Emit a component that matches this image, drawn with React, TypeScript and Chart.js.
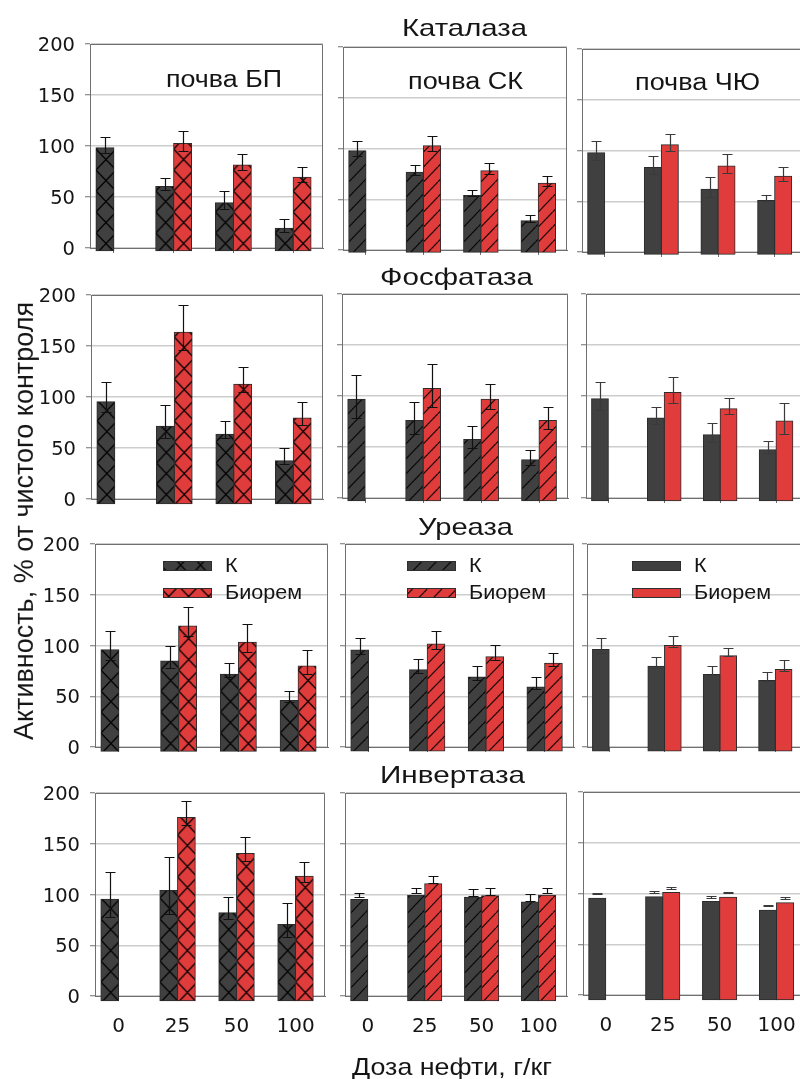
import React, { useEffect, useRef } from 'react';
import { Chart, registerables } from 'chart.js';

Chart.register(...registerables);

// ---------------- data ----------------
const doseLabels = ['0', '25', '50', '100'];
const seriesLabels = ['К', 'Биорем'];
const soilLabels = ['почва БП', 'почва СК', 'почва ЧЮ'];
const enzymeLabels = ['Каталаза', 'Фосфатаза', 'Уреаза', 'Инвертаза'];
const yAxisTitle = 'Активность, % от чистого контроля';
const xAxisTitle = 'Доза нефти, г/кг';
const yMin = 0;
const yMax = 200;
const yStep = 50;

// Каталаза
const catBP_K = [101, 63, 47, 22];
const catBP_KErr = [8, 6, 9, 6];
const catBP_B = [null, 105, 84, 72];
const catBP_BErr = [null, 10, 8, 7];
const catSK_K = [100, 79, 56, 31];
const catSK_KErr = [7, 5, 3, 3.5];
const catSK_B = [null, 105, 80.5, 68];
const catSK_BErr = [null, 7.5, 5.5, 5];
const catCHU_K = [100, 85.5, 64, 53];
const catCHU_KErr = [9.5, 9, 9.5, 3];
const catCHU_B = [null, 108, 87, 77];
const catCHU_BErr = [null, 8, 9.5, 7];

// Фосфатаза
const fosBP_K = [100, 76, 68, 42];
const fosBP_KErr = [15, 16, 8, 8];
const fosBP_B = [null, 168, 117, 84];
const fosBP_BErr = [null, 22, 12, 11.5];
const fosSK_K = [99.5, 78.5, 60, 40];
const fosSK_KErr = [21.5, 16, 11, 7.5];
const fosSK_B = [null, 110, 99.5, 78.5];
const fosSK_BErr = [null, 21, 12, 11];
const fosCHU_K = [100, 81, 64.5, 50];
const fosCHU_KErr = [14, 8.5, 9.5, 6];
const fosCHU_B = [null, 106, 90, 78];
const fosCHU_BErr = [null, 12.5, 8, 15.5];

// Уреаза
const urBP_K = [100, 89, 76, 50];
const urBP_KErr = [14, 11, 7, 5.5];
const urBP_B = [null, 123.5, 107.5, 84];
const urBP_BErr = [null, 14.5, 14, 12];
const urSK_K = [99.5, 80, 73, 63];
const urSK_KErr = [8, 7, 6.5, 5.7];
const urSK_B = [null, 105.5, 93, 86.5];
const urSK_BErr = [null, 8.5, 7.5, 6.3];
const urCHU_K = [100, 83.5, 75.5, 69.5];
const urCHU_KErr = [7, 5.5, 4.5, 4.2];
const urCHU_B = [null, 104, 93.8, 80.3];
const urCHU_BErr = [null, 5, 4.2, 5.3];

// Инвертаза
const invBP_K = [100, 108.5, 86.5, 75];
const invBP_KErr = [22.5, 28, 11, 17];
const invBP_B = [null, 180.5, 145, 122.5];
const invBP_BErr = [null, 12, 12, 10];
const invSK_K = [99.6, 103.9, 102, 97.2];
const invSK_KErr = [1.7, 2.8, 3.3, 3.5];
const invSK_B = [null, 115.1, 103.3, 103.9];
const invSK_BErr = [null, 3.3, 3.3, 2.8];
const invCHU_K = [99.8, 101.4, 96.6, 88];
const invCHU_KErr = [0.7, 0.7, 0.7, 0.7];
const invCHU_B = [null, 105.5, 101, 95.6];
const invCHU_BErr = [null, 0.7, 0.7, 0.7];

const panelData: any[][] = [
  [
    { k: catBP_K, kErr: catBP_KErr, b: catBP_B, bErr: catBP_BErr },
    { k: catSK_K, kErr: catSK_KErr, b: catSK_B, bErr: catSK_BErr },
    { k: catCHU_K, kErr: catCHU_KErr, b: catCHU_B, bErr: catCHU_BErr },
  ],
  [
    { k: fosBP_K, kErr: fosBP_KErr, b: fosBP_B, bErr: fosBP_BErr },
    { k: fosSK_K, kErr: fosSK_KErr, b: fosSK_B, bErr: fosSK_BErr },
    { k: fosCHU_K, kErr: fosCHU_KErr, b: fosCHU_B, bErr: fosCHU_BErr },
  ],
  [
    { k: urBP_K, kErr: urBP_KErr, b: urBP_B, bErr: urBP_BErr },
    { k: urSK_K, kErr: urSK_KErr, b: urSK_B, bErr: urSK_BErr },
    { k: urCHU_K, kErr: urCHU_KErr, b: urCHU_B, bErr: urCHU_BErr },
  ],
  [
    { k: invBP_K, kErr: invBP_KErr, b: invBP_B, bErr: invBP_BErr },
    { k: invSK_K, kErr: invSK_KErr, b: invSK_B, bErr: invSK_BErr },
    { k: invCHU_K, kErr: invCHU_KErr, b: invCHU_B, bErr: invCHU_BErr },
  ],
];

// ---------------- layout / style ----------------
// plot-area boxes [left, right, top, bottom] in page pixels
const BOX = [
  [[90, 323, 44, 248], [343, 567, 47, 250], [582, 803, 49, 252]],
  [[91, 323, 295, 499], [342, 568, 294, 498], [586, 804, 294, 498]],
  [[95, 328, 544, 747], [345, 574, 544, 747], [587, 803, 544, 747]],
  [[95, 325, 793, 996], [345, 567, 793, 996], [583, 805, 792, 995]],
];
// visual drop of the bars below the axis (value units)
const DROP = [
  [2.6, 2.3, 2.3],
  [4.6, 2.6, 2.6],
  [4.3, 4, 4],
  [4.6, 4.6, 4.6],
];
const X_MIN = -0.4;
const X_MAX = 3.5;
const CAT_PCT = 0.6;
const PATTERN_KIND = ['cross', 'diag', 'solid'];
const LEGEND_DX = [68, 62, 45];
const GRAY = '#404040';
const RED = '#e03c3c';
const AXIS_COLOR = '#707070';
const TEXT_COLOR = '#151515';

// pattern whose tiles repeat an integer number of times per category step,
// shifted so the tile starts at the bar's left edge
function makeFill(kind: string, color: string, step: number, phaseX: number, phaseY: number): any {
  if (kind === 'solid') return color;
  const tile = document.createElement('canvas');
  const w = 20;
  const h = kind === 'cross' ? 21 : 15;
  tile.width = w;
  tile.height = h;
  const g = tile.getContext('2d')!;
  g.fillStyle = color;
  g.fillRect(0, 0, w, h);
  g.strokeStyle = 'rgba(0,0,0,0.95)';
  g.lineWidth = 1.35;
  g.beginPath();
  for (const dx of [-w, 0, w]) {
    g.moveTo(dx, h);
    g.lineTo(dx + w, 0);
    if (kind === 'cross') {
      g.moveTo(dx, 0);
      g.lineTo(dx + w, h);
    }
  }
  g.stroke();
  const pat = g.createPattern(tile, 'repeat')!;
  const tileW = kind === 'cross' ? step / 3 : step / 4;
  const k = tileW / w;
  try {
    pat.setTransform(new DOMMatrix([k, 0, 0, 1, phaseX, phaseY]));
  } catch (e) {
    /* ignore */
  }
  return pat;
}

const framePlugin = {
  id: 'frame',
  beforeDatasetsDraw(chart: any) {
    const { ctx, chartArea: a } = chart;
    ctx.save();
    ctx.strokeStyle = AXIS_COLOR;
    ctx.lineWidth = 1;
    ctx.beginPath();
    ctx.moveTo(a.left, Math.round(a.top) + 0.5);
    ctx.lineTo(Math.round(a.right) - 0.5, Math.round(a.top) + 0.5);
    ctx.lineTo(Math.round(a.right) - 0.5, a.bottom);
    ctx.stroke();
    ctx.restore();
  },
};

const errorBarsPlugin = {
  id: 'errorBars',
  afterDatasetsDraw(chart: any, _args: any, opts: any) {
    const { ctx } = chart;
    const ys = chart.scales.y;
    const cap = opts.cap || 10;
    chart.data.datasets.forEach((ds: any, di: number) => {
      const meta = chart.getDatasetMeta(di);
      meta.data.forEach((el: any, i: number) => {
        const v = ds.means[i];
        const e = ds.errs[i];
        if (v == null || e == null) return;
        const x = Math.round(el.x) + 0.5;
        const t = Math.round(ys.getPixelForValue(v + e)) + 0.5;
        const b = Math.round(ys.getPixelForValue(v - e)) + 0.5;
        ctx.save();
        ctx.strokeStyle = opts.color;
        ctx.lineWidth = 1.2;
        ctx.beginPath();
        ctx.moveTo(x, t);
        ctx.lineTo(x, b);
        ctx.moveTo(x - cap / 2, t);
        ctx.lineTo(x + cap / 2, t);
        ctx.moveTo(x - cap / 2, b);
        ctx.lineTo(x + cap / 2, b);
        ctx.stroke();
        ctx.restore();
      });
    });
  },
};

const panelLegendPlugin = {
  id: 'panelLegend',
  afterDraw(chart: any, _args: any, opts: any) {
    if (!opts.show) return;
    const { ctx, chartArea: a } = chart;
    chart.data.datasets.forEach((ds: any, i: number) => {
      const bx = Math.round(a.left + opts.dx);
      const cy = Math.round(a.top + 22 + i * 27);
      ctx.save();
      ctx.fillStyle = ds.backgroundColor;
      ctx.fillRect(bx, cy - 5, 49, 10);
      ctx.strokeStyle = '#2f2f2f';
      ctx.lineWidth = 1;
      ctx.strokeRect(bx + 0.5, cy - 4.5, 48, 9);
      ctx.fillStyle = TEXT_COLOR;
      ctx.font = '20px "Liberation Sans"';
      ctx.textBaseline = 'middle';
      ctx.translate(bx + 62, cy + 0.5);
      ctx.scale(1.08, 1);
      ctx.fillText(ds.label, 0, 0);
      ctx.restore();
    });
  },
};

function zeroPadding(s: any) {
  s.paddingTop = 0;
  s.paddingBottom = 0;
  s.paddingLeft = 0;
  s.paddingRight = 0;
}

function Panel({ r, c }: { r: number; c: number }) {
  const ref = useRef<HTMLCanvasElement>(null);
  const [L, R, T, B] = BOX[r][c];
  const axisW = c === 0 ? 70 : 10;
  const padTop = 8;
  const padRight = 8;
  const bottomH = r === 3 ? 52 : 12;
  const W = axisW + (R - L) + padRight;
  const H = padTop + (B - T) + bottomH;

  useEffect(() => {
    const canvas = ref.current;
    if (!canvas) return;
    const d = panelData[r][c];
    const kind = PATTERN_KIND[c];
    const drop = DROP[r][c];
    const step = (R - L) / (X_MAX - X_MIN);
    const firstCenter = axisW + (0 - X_MIN) * step;
    const kLeft = firstCenter - (CAT_PCT / 2) * step;
    const bLeft = firstCenter;
    const toBars = (arr: any[]) =>
      arr.map((v, i) => ({ x: i, y: v == null ? null : [-drop, v - drop] }));
    const chart = new Chart(canvas, {
      type: 'bar',
      data: {
        datasets: [
          {
            label: seriesLabels[0],
            data: toBars(d.k),
            means: d.k,
            errs: d.kErr,
            backgroundColor: makeFill(kind, GRAY, step, kLeft, padTop),
          } as any,
          {
            label: seriesLabels[1],
            data: toBars(d.b),
            means: d.b,
            errs: d.bErr,
            backgroundColor: makeFill(kind, RED, step, bLeft, padTop),
          } as any,
        ],
      },
      options: {
        responsive: false,
        animation: false,
        events: [],
        layout: { padding: { top: padTop, right: padRight, left: 0, bottom: 0 }, autoPadding: false },
        datasets: {
          bar: {
            categoryPercentage: CAT_PCT,
            barPercentage: 1,
            borderColor: '#2c2c2c',
            borderWidth: 1,
            borderSkipped: false,
            inflateAmount: 0.5,
            clip: false,
          },
        },
        plugins: {
          legend: { display: false },
          tooltip: { enabled: false },
          title: { display: false },
          errorBars: { color: c === 2 ? '#3a3a3a' : '#111111', cap: 10 },
          panelLegend: { show: r === 2, dx: LEGEND_DX[c] },
        },
        scales: {
          x: {
            type: 'linear',
            min: X_MIN,
            max: X_MAX,
            offset: false,
            afterBuildTicks: (s: any) => {
              s.ticks = doseLabels.map((_, i) => ({ value: i }));
            },
            ticks: {
              display: r === 3,
              callback: (v: any) => doseLabels[v] ?? '',
              font: { family: 'DejaVu Sans', size: 20 },
              color: TEXT_COLOR,
              padding: 14,
              autoSkip: false,
              maxRotation: 0,
              minRotation: 0,
            },
            grid: {
              display: true,
              drawOnChartArea: false,
              drawTicks: true,
              tickLength: 5,
              tickColor: AXIS_COLOR,
              offset: false,
            },
            border: { display: true, color: AXIS_COLOR, width: 1 },
            afterFit: (s: any) => {
              s.height = bottomH;
              zeroPadding(s);
            },
          },
          y: {
            min: yMin,
            max: yMax,
            ticks: {
              stepSize: yStep,
              display: c === 0,
              font: { family: 'DejaVu Sans', size: 19.5 },
              color: TEXT_COLOR,
              padding: 10,
              labelOffset: 2,
            },
            grid: { color: '#cdcdcd', lineWidth: 1.5, tickLength: 5, tickColor: AXIS_COLOR, tickWidth: 1 },
            border: { display: true, color: AXIS_COLOR, width: 1 },
            afterFit: (s: any) => {
              s.width = axisW;
              zeroPadding(s);
            },
          },
        },
      } as any,
      plugins: [framePlugin, errorBarsPlugin, panelLegendPlugin],
    });
    return () => chart.destroy();
  }, [r, c]);

  return (
    <canvas
      ref={ref}
      width={W}
      height={H}
      style={{ position: 'absolute', left: L - axisW, top: T - padTop, width: W, height: H }}
    />
  );
}

let measureCtx: CanvasRenderingContext2D | null = null;
function textWidth(text: string, size: number) {
  if (!measureCtx) measureCtx = document.createElement('canvas').getContext('2d');
  measureCtx!.font = `${size}px "Liberation Sans"`;
  return measureCtx!.measureText(text).width || 1;
}

function Label({ text, x, baseline, width, size }: any) {
  const sx = width / textWidth(text, size);
  return (
    <div
      style={{
        position: 'absolute',
        left: x,
        top: baseline - 0.8465 * size,
        fontFamily: '"Liberation Sans"',
        fontSize: size,
        lineHeight: `${size}px`,
        whiteSpace: 'nowrap',
        transform: `scaleX(${sx})`,
        transformOrigin: '0 0',
        color: TEXT_COLOR,
      }}
    >
      {text}
    </div>
  );
}

function VLabel({ text, cx, cy, length, size, thick }: any) {
  const sx = length / textWidth(text, size);
  return (
    <div
      style={{
        position: 'absolute',
        left: cx,
        top: cy,
        fontFamily: '"Liberation Sans"',
        fontSize: size,
        lineHeight: `${size}px`,
        whiteSpace: 'nowrap',
        transform: `translate(-50%, -50%) rotate(-90deg) scale(${sx}, ${thick})`,
        color: TEXT_COLOR,
      }}
    >
      {text}
    </div>
  );
}

const ENZYME_POS = [
  { x: 401.7, w: 125, base: 36.7 },
  { x: 380, w: 153, base: 285 },
  { x: 418, w: 95, base: 535 },
  { x: 380, w: 145, base: 783.3 },
];
const SOIL_POS = [
  { x: 165.7, w: 116, base: 87.3 },
  { x: 408, w: 115, base: 89.3 },
  { x: 635, w: 125, base: 90.7 },
];

export default function App() {
  return (
    <div
      style={{
        position: 'absolute',
        left: 0,
        top: 0,
        width: 800,
        height: 1079,
        overflow: 'hidden',
        background: '#ffffff',
      }}
    >
      {[0, 1, 2, 3].map((r) => [0, 1, 2].map((c) => <Panel key={`${r}-${c}`} r={r} c={c} />))}
      {enzymeLabels.map((t, i) => (
        <Label key={t} text={t} x={ENZYME_POS[i].x} baseline={ENZYME_POS[i].base} width={ENZYME_POS[i].w} size={24} />
      ))}
      {soilLabels.map((t, i) => (
        <Label key={t} text={t} x={SOIL_POS[i].x} baseline={SOIL_POS[i].base} width={SOIL_POS[i].w} size={23} />
      ))}
      <Label text={xAxisTitle} x={352} baseline={1075} width={200} size={24} />
      <VLabel text={yAxisTitle} cx={23.7} cy={521} length={438} size={24} thick={1.15} />
    </div>
  );
}
